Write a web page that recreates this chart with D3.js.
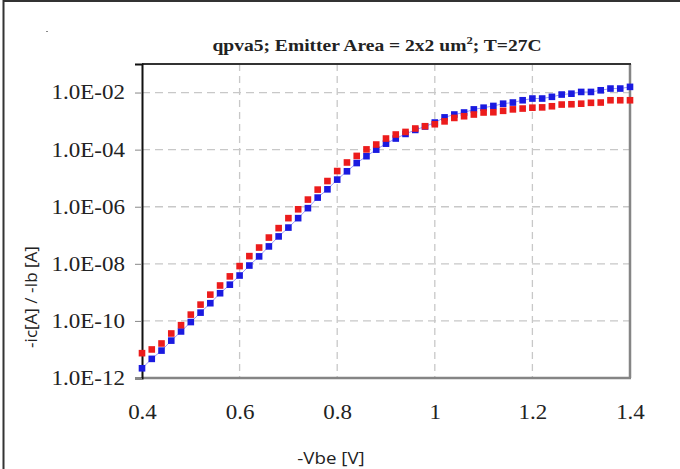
<!DOCTYPE html>
<html>
<head>
<meta charset="utf-8">
<script src="https://cdn.jsdelivr.net/npm/d3@7"></script>
<style>
  html, body { margin: 0; padding: 0; background: #fff; }
  svg { display: block; }
</style>
</head>
<body>
<svg id="chart" width="680" height="469"></svg>
<script>
// ---- data ----
const vbe = [0.40,0.42,0.44,0.46,0.48,0.50,0.52,0.54,0.56,0.58,
             0.60,0.62,0.64,0.66,0.68,0.70,0.72,0.74,0.76,0.78,
             0.80,0.82,0.84,0.86,0.88,0.90,0.92,0.94,0.96,0.98,
             1.00,1.02,1.04,1.06,1.08,1.10,1.12,1.14,1.16,1.18,
             1.20,1.22,1.24,1.26,1.28,1.30,1.32,1.34,1.36,1.38,1.40];

// red series (-Ib)
const ibValues = [7.41e-12,1.00e-11,1.62e-11,3.63e-11,7.08e-11,1.66e-10,3.72e-10,8.32e-10,1.74e-9,3.63e-9,
                  8.32e-9,1.86e-8,3.72e-8,8.32e-8,1.78e-7,3.98e-7,8.13e-7,1.78e-6,3.98e-6,7.94e-6,
                  1.78e-5,3.55e-5,6.03e-5,1.02e-4,1.51e-4,2.45e-4,3.39e-4,4.17e-4,5.50e-4,6.61e-4,
                  7.76e-4,9.77e-4,1.29e-3,1.48e-3,1.70e-3,2.00e-3,2.04e-3,2.29e-3,2.57e-3,2.75e-3,
                  2.95e-3,3.02e-3,3.31e-3,3.80e-3,3.89e-3,4.07e-3,4.37e-3,4.47e-3,5.37e-3,5.37e-3,5.37e-3];

// blue series (-Ic)
const icValues = [2.19e-12,4.68e-12,9.12e-12,2.04e-11,4.27e-11,9.12e-11,1.95e-10,4.17e-10,9.33e-10,1.86e-9,
                  3.89e-9,8.71e-9,1.82e-8,4.07e-8,9.12e-8,1.86e-7,3.98e-7,8.91e-7,2.09e-6,4.07e-6,
                  8.91e-6,1.74e-5,3.39e-5,5.89e-5,1.00e-4,1.62e-4,2.45e-4,3.55e-4,4.90e-4,6.46e-4,
                  8.91e-4,1.35e-3,1.70e-3,2.00e-3,2.57e-3,2.95e-3,3.39e-3,4.07e-3,4.47e-3,5.37e-3,
                  6.17e-3,6.17e-3,7.08e-3,8.51e-3,9.12e-3,1.05e-2,1.05e-2,1.20e-2,1.38e-2,1.38e-2,1.58e-2];

const xTicks = [0.4,0.6,0.8,1.0,1.2,1.4];
const xTickLabels = ["0.4","0.6","0.8","1","1.2","1.4"];
const yTicks = [1e-12,1e-10,1e-8,1e-6,1e-4,1e-2];
const yTickLabels = ["1.0E-12","1.0E-10","1.0E-08","1.0E-06","1.0E-04","1.0E-02"];

// ---- layout ----
const svg = d3.select("#chart");
const L = 142, R = 630, T = 64, B = 378;
const SX = 1.15; // horizontal stretch of the serif text in the reference

const x = d3.scaleLinear().domain([0.4, 1.4]).range([L, R]);
const y = d3.scaleLog().domain([1e-12, 1e-1]).range([B, T]);

// outer frame
svg.append("line").attr("x1",3).attr("x2",680).attr("y1",1).attr("y2",1)
  .attr("stroke","#333").attr("stroke-width",2);
svg.append("line").attr("x1",3.5).attr("x2",3.5).attr("y1",0).attr("y2",469)
  .attr("stroke","#333").attr("stroke-width",2);
svg.append("rect").attr("x",46).attr("y",31).attr("width",2).attr("height",1).attr("fill","#888");

// grid
const grid = svg.append("g");
grid.selectAll("line.h").data(yTicks.filter(d => d > 1e-12)).join("line")
  .attr("x1", L).attr("x2", R).attr("y1", d => y(d)).attr("y2", d => y(d))
  .attr("stroke","#c8c8c8").attr("stroke-width",1.3).attr("stroke-dasharray","8,5");
grid.selectAll("line.v").data(xTicks.filter(d => d > 0.4 && d < 1.4)).join("line")
  .attr("x1", d => x(d)).attr("x2", d => x(d)).attr("y1", T).attr("y2", B)
  .attr("stroke","#c8c8c8").attr("stroke-width",1.3).attr("stroke-dasharray","7,5");

// frame of plot
svg.append("line").attr("x1",R).attr("x2",R).attr("y1",T).attr("y2",B)
  .attr("stroke","#858585").attr("stroke-width",2.5);
svg.append("line").attr("x1",L).attr("x2",R+1).attr("y1",B).attr("y2",B)
  .attr("stroke","#858585").attr("stroke-width",2.5);
svg.append("line").attr("x1",L).attr("x2",R+1).attr("y1",T).attr("y2",T)
  .attr("stroke","#333").attr("stroke-width",2);

const serif = "'Liberation Serif', 'Times New Roman', serif";

// y axis
const yAxis = d3.axisLeft(y).tickValues(yTicks)
  .tickFormat((d,i) => yTickLabels[i]).tickSize(7).tickPadding(10);
const gy = svg.append("g").attr("transform",`translate(${L},0)`).call(yAxis);
gy.select(".domain").attr("stroke","#111").attr("stroke-width",2);
gy.selectAll(".tick line").attr("stroke","#888").attr("stroke-width",1);
gy.selectAll("text").attr("font-family", serif)
  .attr("font-size",20).attr("fill","#222")
  .attr("x", -17 / SX).attr("transform", `scale(${SX},1)`);

// x axis
const xAxis = d3.axisBottom(x).tickValues(xTicks)
  .tickFormat((d,i) => xTickLabels[i]).tickSize(0).tickPadding(27);
const gx = svg.append("g").attr("transform",`translate(0,${B})`).call(xAxis);
gx.select(".domain").remove();
gx.selectAll("text").attr("font-family", serif)
  .attr("font-size",20).attr("fill","#222")
  .attr("transform", `scale(${SX},1)`);

// series
const blue = vbe.map((v,i) => [v, icValues[i]]);
const red = vbe.map((v,i) => [v, ibValues[i]]);
const lineGen = d3.line().x(d => x(d[0])).y(d => y(d[1]));
svg.append("path").datum(blue).attr("d", lineGen).attr("fill","none")
  .attr("stroke","#9a9aff").attr("stroke-width",1);

const S = 6.6;
svg.append("g").selectAll("rect").data(blue).join("rect")
  .attr("x", d => x(d[0]) - S/2).attr("y", d => y(d[1]) - S/2)
  .attr("width", S).attr("height", S).attr("fill", "#1a1ae0");
svg.append("g").selectAll("rect").data(red).join("rect")
  .attr("x", d => x(d[0]) - S/2).attr("y", d => y(d[1]) - S/2)
  .attr("width", S).attr("height", S).attr("fill", "#ec1c1c");

// title
const title = svg.append("text").attr("transform", `translate(377,51) scale(${SX},1)`)
  .attr("text-anchor","middle")
  .attr("font-family", serif)
  .attr("font-weight","bold").attr("font-size",17).attr("fill","#222");
title.append("tspan").text("qpva5; Emitter Area = 2x2 um");
title.append("tspan").attr("dy",-7).attr("font-size",11).text("2");
title.append("tspan").attr("dy",7).text("; T=27C");

// axis labels
svg.append("text").attr("transform","translate(331,464) scale(1.1,1)").attr("text-anchor","middle")
  .attr("font-family","'Open Sans', sans-serif").attr("font-size",17).attr("fill","#222")
  .text("-Vbe [V]");
svg.append("text").attr("transform","translate(37,297) rotate(-90)").attr("text-anchor","middle")
  .attr("font-family","'Open Sans', sans-serif").attr("font-size",17).attr("fill","#222")
  .text("-ic[A] / -Ib [A]");
</script>
</body>
</html>
